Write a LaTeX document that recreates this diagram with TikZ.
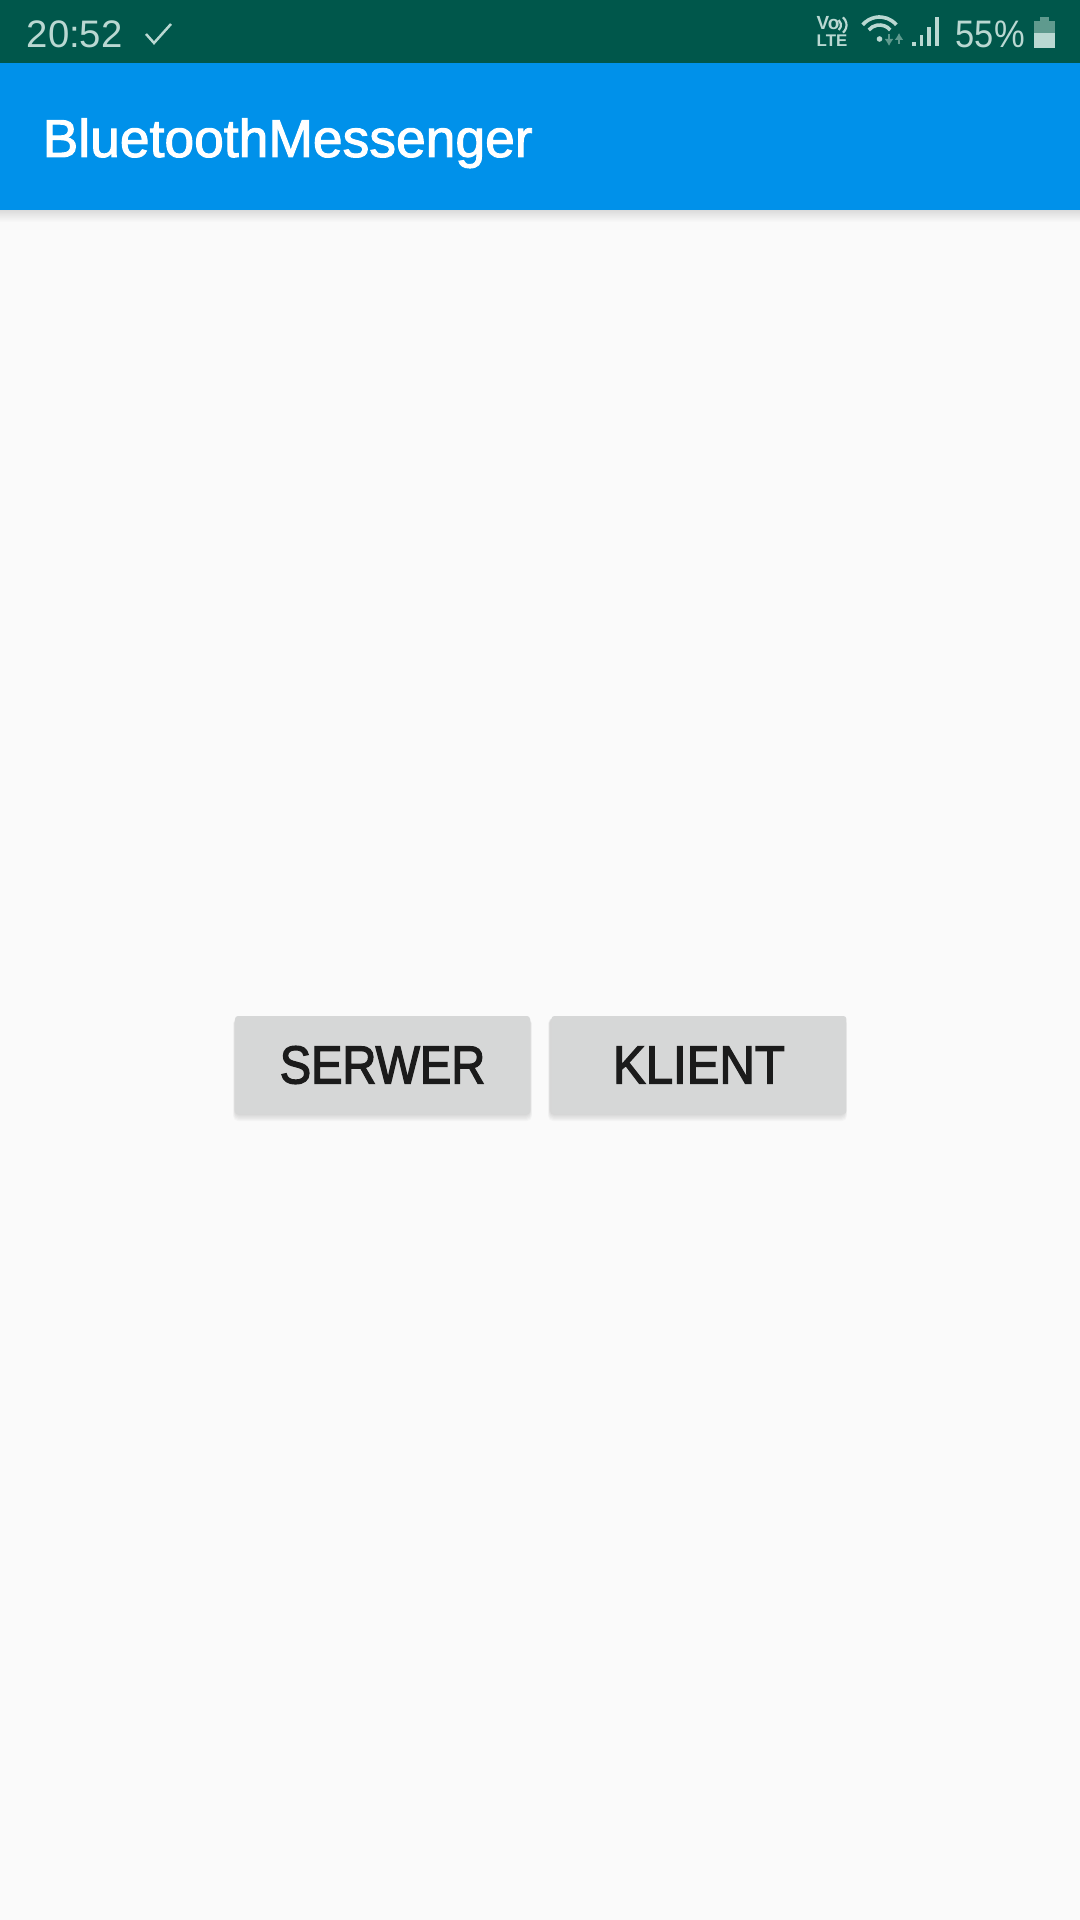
\documentclass[tikz,border=0pt]{standalone}
\usepackage{fontspec}
\setmainfont{Liberation Sans}
\newfontfamily\medfont[FakeBold=1.8]{Liberation Sans}
\newfontfamily\btnfont[FakeBold=2.4,FakeStretch=0.88]{Liberation Sans}
\newfontfamily\btnwidefont[FakeBold=2.4,FakeStretch=0.92]{Liberation Sans}
\newfontfamily\thinfont[FakeStretch=0.9]{Liberation Sans}
\usepackage{xcolor}
\usetikzlibrary{positioning,calc,arrows.meta}
\definecolor{statusbg}{HTML}{00574B}
\definecolor{appbg}{HTML}{0091EA}
\definecolor{pagebg}{HTML}{FAFAFA}
\definecolor{btnbg}{HTML}{D6D7D7}
\definecolor{btntext}{HTML}{1B1B1B}
\definecolor{statusfg}{HTML}{BAD8D2}
\definecolor{statusdim}{HTML}{5F9A8E}
\tikzset{
    apptext/.style={text=white, inner sep=0pt, font=\medfont\fontsize{15.2}{18}\selectfont},
    statustext/.style={text=statusfg, inner sep=0pt, font=\fontsize{10.9}{13}\selectfont},
    lteicon/.style={text=statusfg, inner sep=0pt, font=\fontsize{4.8}{6}\selectfont\bfseries},
    btnbox/.style={fill=btnbg, text=btntext, rounded corners=0.03cm, minimum width=2.95cm, minimum height=0.98cm, inner sep=0pt, font=\btnfont\fontsize{15.2}{18}\selectfont},
    netarrow/.style={statusdim, line width=0.025cm, -{Latex[length=0.07cm,width=0.09cm]}},
}
\begin{document}
\begin{tikzpicture}
    \useasboundingbox (0,-19.2) rectangle (10.8,0);
    % Background
    \fill[pagebg] (0,-19.2) rectangle (10.8,0);
    \fill[statusbg] (0,-0.63) rectangle (10.8,0);
    \shade[top color=black!14, bottom color=pagebg] (0,-2.22) rectangle (10.8,-2.1);
    \fill[appbg] (0,-2.1) rectangle (10.8,-0.63);

    % Status bar
    \node[statustext, anchor=base west] (clock) at (0.26,-0.48) {20:52};
    \draw[statusfg, line width=0.025cm] (1.46,-0.34) -- (1.54,-0.43) -- (1.71,-0.24);
    \node[lteicon, anchor=base west, font=\fontsize{5.4}{6}\selectfont\bfseries] (volabel) at (8.16,-0.295) {Vo};
    \draw[statusfg, line width=0.022cm] (8.345,-0.25) ++(-50:0.065) arc (-50:50:0.065);
    \draw[statusfg, line width=0.022cm] (8.365,-0.25) ++(-50:0.1) arc (-50:50:0.1);
    \node[lteicon, anchor=base west] (ltelabel) at (8.16,-0.47) {LTE};

    % Wifi
    \foreach \r in {0.14,0.22} {
        \draw[statusfg, line width=0.036cm] (8.795,-0.39) ++(40:\r) arc (40:140:\r);
    }
    \fill[statusfg] (8.795,-0.39) circle (0.028);
    \draw[netarrow] (8.89,-0.34) -- (8.89,-0.46);
    \draw[netarrow] (8.99,-0.44) -- (8.99,-0.33);

    % Signal
    \foreach \x/\top in {9.12/0.42, 9.195/0.35, 9.27/0.27, 9.35/0.17} {
        \fill[statusfg] (\x,-0.465) rectangle (\x+0.035,-\top);
    }

    \node[statustext, anchor=base west, font=\thinfont\fontsize{10.9}{13}\selectfont] (battery) at (9.55,-0.48) {55\%};

    % Battery
    \fill[statusdim] (10.34,-0.33) rectangle (10.55,-0.21);
    \fill[statusdim] (10.4,-0.21) rectangle (10.49,-0.17);
    \fill[statusfg] (10.34,-0.48) rectangle (10.55,-0.33);

    % Title
    \node[apptext, anchor=base west] (title) at (0.42,-1.57) {BluetoothMessenger};

    % Buttons
    \foreach \o in {1,2,3,4,5,6} {
        \fill[black, opacity=0.025, rounded corners=0.05cm] (2.35-\o*0.003,-11.14-\o*0.012) rectangle (5.3+\o*0.003,-10.18);
        \fill[black, opacity=0.025, rounded corners=0.05cm] (5.5-\o*0.003,-11.14-\o*0.012) rectangle (8.45+\o*0.003,-10.18);
    }
    \node[btnbox] (server) at (3.825,-10.65) {SERWER};
    \node[btnbox, right=0.2cm of server, font=\btnwidefont\fontsize{15.2}{18}\selectfont] (client) {KLIENT};
\end{tikzpicture}
\end{document}
